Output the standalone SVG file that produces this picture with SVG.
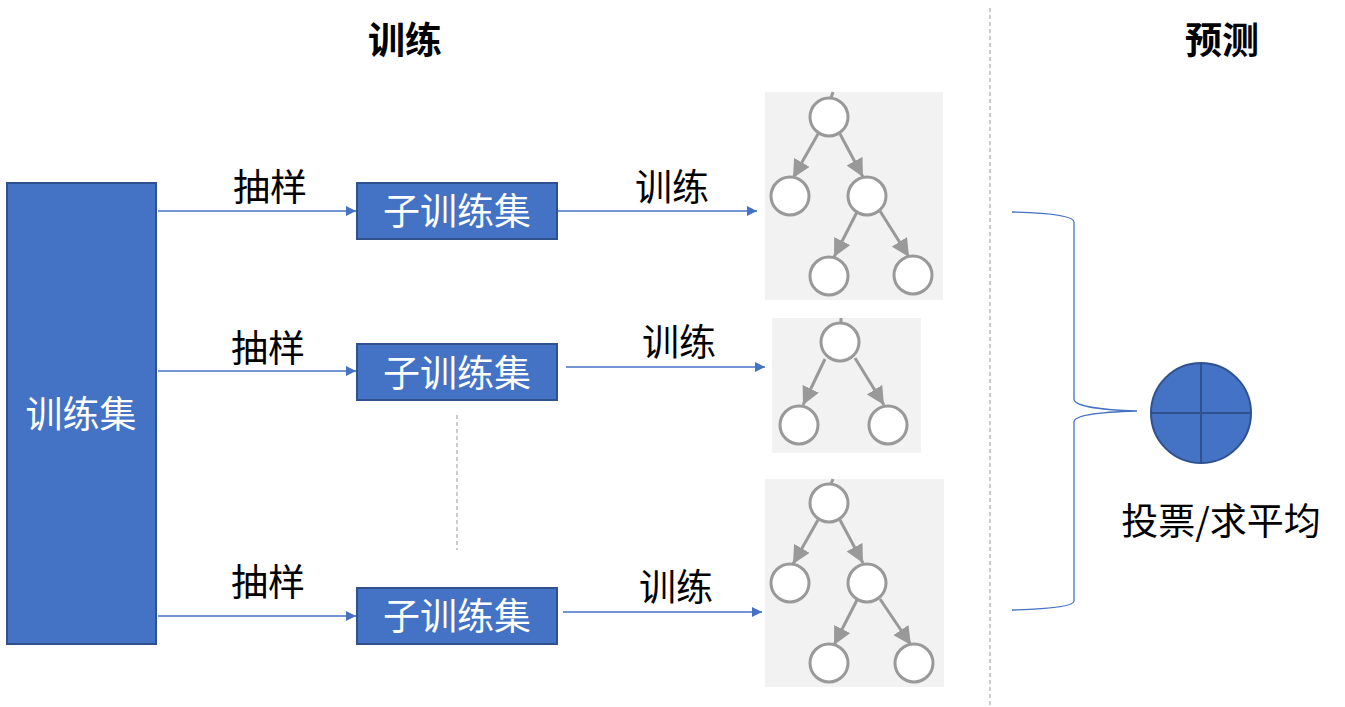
<svg xmlns="http://www.w3.org/2000/svg" width="1345" height="707" viewBox="0 0 1345 707">
<style>
.t{font-family:"Noto Sans CJK SC","Liberation Sans",sans-serif;font-size:37px;text-anchor:middle;fill:#000}
.w{fill:#fff}
.b{font-weight:bold}
.box{fill:#4472C4;stroke:#2F528F;stroke-width:2}
.ln{stroke:#4472C4;stroke-width:1.3;fill:none}
.bg{fill:#F2F2F2}
.nd{fill:#fff;stroke:#999;stroke-width:3}
.ed{stroke:#999;stroke-width:3;fill:none}
</style>
<defs>
<marker id="ba" viewBox="0 0 10 10" refX="10" refY="5" markerWidth="10" markerHeight="10" markerUnits="userSpaceOnUse" orient="auto"><path d="M0,0L10,5L0,10z" fill="#4472C4"/></marker>
<marker id="ga" viewBox="0 0 10 10" refX="10" refY="5" markerWidth="6" markerHeight="6" orient="auto"><path d="M0,0L10,5L0,10z" fill="#999"/></marker>
</defs>
<rect width="1345" height="707" fill="#fff"/>
<line x1="990" y1="8" x2="990" y2="707" stroke="#999" stroke-dasharray="4,3" stroke-width="1"/>
<line x1="457" y1="415" x2="457" y2="550" stroke="#999" stroke-dasharray="4,3" stroke-width="1"/>
<text class="t b" x="405" y="54">训练</text>
<text class="t b" x="1222" y="54">预测</text>
<g id="train-set"><rect class="box" x="7" y="183" width="149" height="461"/><text class="t w" x="81" y="428">训练集</text></g>
<g id="sub1"><rect class="box" x="357" y="183" width="200" height="56"/><text class="t w" x="457" y="225">子训练集</text></g>
<g id="sub2"><rect class="box" x="357" y="344" width="200" height="56"/><text class="t w" x="457" y="387">子训练集</text></g>
<g id="sub3"><rect class="box" x="357" y="588" width="200" height="56"/><text class="t w" x="457" y="630">子训练集</text></g>
<g id="connectors">
<line class="ln" x1="158" y1="211" x2="356" y2="211" marker-end="url(#ba)"/>
<line class="ln" x1="158" y1="371" x2="356" y2="371" marker-end="url(#ba)"/>
<line class="ln" x1="158" y1="616" x2="356" y2="616" marker-end="url(#ba)"/>
<line class="ln" x1="558" y1="211" x2="757" y2="211" marker-end="url(#ba)"/>
<line class="ln" x1="566" y1="367" x2="765" y2="367" marker-end="url(#ba)"/>
<line class="ln" x1="563" y1="612" x2="762" y2="612" marker-end="url(#ba)"/>
<path class="ln" d="M1012,212 C1050,213 1074,216 1074,222 L1074,399 C1074,406 1100,410 1137,411 C1100,412 1074,415 1074,422 L1074,601 C1074,606 1050,609 1012,610"/>
</g>
<text class="t" x="270" y="201">抽样</text>
<text class="t" x="268" y="362">抽样</text>
<text class="t" x="268" y="596">抽样</text>
<text class="t" x="672" y="201">训练</text>
<text class="t" x="679" y="356">训练</text>
<text class="t" x="676" y="601">训练</text>
<g id="tree1">
<rect class="bg" x="765" y="92" width="178" height="208"/>
<line class="ed" x1="833" y1="92" x2="831" y2="98"/>
<line class="ed" x1="818" y1="134" x2="793" y2="178" marker-end="url(#ga)"/>
<line class="ed" x1="840" y1="134" x2="863" y2="177" marker-end="url(#ga)"/>
<line class="ed" x1="857" y1="212" x2="834" y2="257" marker-end="url(#ga)"/>
<line class="ed" x1="880" y1="211" x2="909" y2="257" marker-end="url(#ga)"/>
<circle class="nd" cx="829" cy="117" r="19"/>
<circle class="nd" cx="790" cy="196" r="19"/>
<circle class="nd" cx="867" cy="196" r="19"/>
<circle class="nd" cx="829" cy="276" r="19"/>
<circle class="nd" cx="913" cy="275" r="19"/>
</g>
<g id="tree2">
<rect class="bg" x="772" y="318" width="149" height="135"/>
<line class="ed" x1="841" y1="318" x2="841" y2="322"/>
<line class="ed" x1="825" y1="359" x2="803" y2="405" marker-end="url(#ga)"/>
<line class="ed" x1="855" y1="358" x2="884" y2="405" marker-end="url(#ga)"/>
<circle class="nd" cx="840" cy="342" r="19"/>
<circle class="nd" cx="799" cy="425" r="19"/>
<circle class="nd" cx="888" cy="425" r="19"/>
</g>
<g id="tree3">
<rect class="bg" x="765" y="479" width="179" height="208"/>
<line class="ed" x1="833" y1="479" x2="831" y2="484"/>
<line class="ed" x1="818" y1="520" x2="793" y2="564" marker-end="url(#ga)"/>
<line class="ed" x1="840" y1="520" x2="863" y2="563" marker-end="url(#ga)"/>
<line class="ed" x1="857" y1="600" x2="834" y2="645" marker-end="url(#ga)"/>
<line class="ed" x1="880" y1="599" x2="911" y2="645" marker-end="url(#ga)"/>
<circle class="nd" cx="829" cy="503" r="19"/>
<circle class="nd" cx="790" cy="583" r="19"/>
<circle class="nd" cx="867" cy="583" r="19"/>
<circle class="nd" cx="829" cy="663" r="19"/>
<circle class="nd" cx="914" cy="663" r="19"/>
</g>
<g id="vote">
<circle class="box" cx="1201" cy="413" r="50"/>
<line x1="1201" y1="363" x2="1201" y2="463" stroke="#2F528F" stroke-width="2"/>
<line x1="1151" y1="413" x2="1251" y2="413" stroke="#2F528F" stroke-width="2"/>
<text class="t" x="1221" y="535">投票/求平均</text>
</g>
</svg>
